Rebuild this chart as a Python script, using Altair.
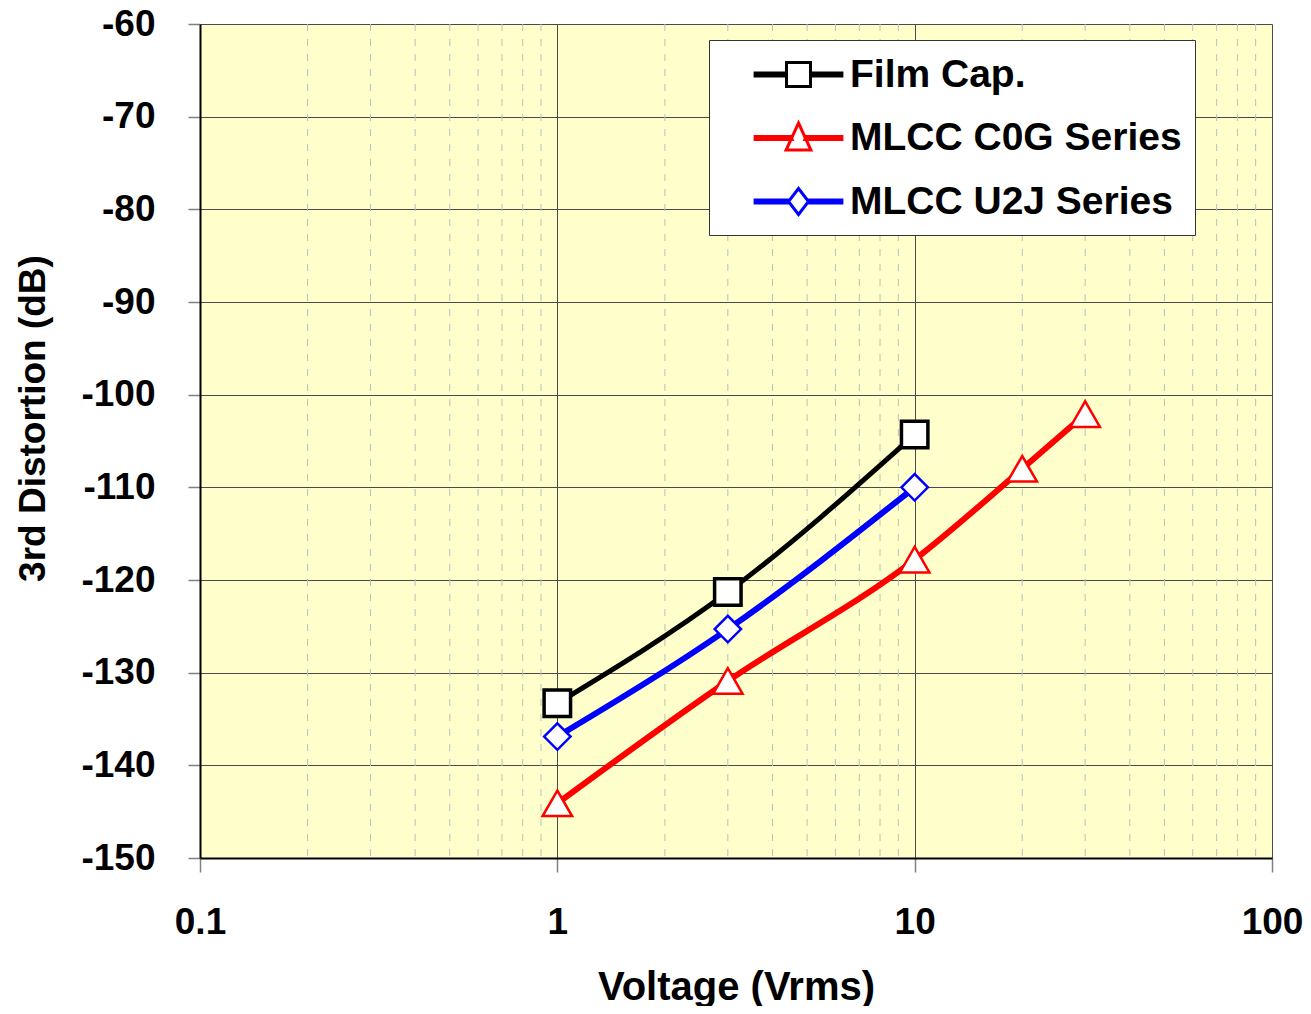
import altair as alt
import pandas as pd

# ---------------- data ----------------
series_names = ["Film Cap.", "MLCC C0G Series", "MLCC U2J Series"]
series_colors = ["#000000", "#FF0000", "#0000FF"]

film_v = [1, 3, 10]
film_d = [-133.3, -121.3, -104.3]

c0g_v = [1, 3, 10, 20, 30]
c0g_d = [-144.1, -130.9, -117.8, -108.0, -102.1]

u2j_v = [1, 3, 10]
u2j_d = [-136.9, -125.3, -110.0]

x_major = [0.1, 1, 10, 100]
x_minor = [0.2, 0.3, 0.4, 0.5, 0.6, 0.7, 0.8, 0.9,
           2, 3, 4, 5, 6, 7, 8, 9,
           20, 30, 40, 50, 60, 70, 80, 90]
y_ticks = [-150, -140, -130, -120, -110, -100, -90, -80, -70, -60]

rows = []
for name, vs, ds in zip(series_names, [film_v, c0g_v, u2j_v], [film_d, c0g_d, u2j_d]):
    for v, d in zip(vs, ds):
        rows.append({"series": name, "v": v, "d": d})
df = pd.DataFrame(rows)
minor_df = pd.DataFrame({"v": x_minor})

# ---------------- style ----------------
FONT = "Liberation Sans"
GRID = "#4a4a4a"

x_scale = alt.Scale(type="log", domain=[0.1, 100], nice=False)
y_scale = alt.Scale(domain=[-150, -60], nice=False, zero=False)

x_axis = alt.Axis(
    values=x_major, format="~g", title="Voltage (Vrms)",
    grid=True, gridColor=GRID, gridWidth=1,
    ticks=True, tickSize=14, tickColor="#808080", tickWidth=1.5,
    domainColor="#000000", domainWidth=2,
    labelFont=FONT, labelFontSize=37, labelFontWeight="bold", labelColor="#000000",
    labelBaseline="alphabetic", labelPadding=61, labelFlush=False, labelOverlap=False,
    titleFont=FONT, titleFontSize=40, titleFontWeight="bold", titleColor="#000000",
    titleBaseline="alphabetic", titleY=141,
)
y_axis = alt.Axis(
    values=y_ticks, title="3rd Distortion (dB)", labelExpr="'' + datum.value",
    grid=True, gridColor=GRID, gridWidth=1,
    ticks=True, tickSize=12, tickColor="#808080", tickWidth=1.5,
    domainColor="#000000", domainWidth=2,
    labelFont=FONT, labelFontSize=37, labelFontWeight="bold", labelColor="#000000",
    labelPadding=33, labelOverlap=False,
    titleFont=FONT, titleFontSize=37, titleFontWeight="bold", titleColor="#000000",
    titleBaseline="alphabetic", titleAlign="center", titleX=-156, titleY=394,
)

color_scale = alt.Scale(domain=series_names, range=series_colors)

# legend symbols: thick line + marker (custom paths, unit = sqrt(size)/2 px)
legend_paths = [
    "M-2.17,-0.07L-0.6,-0.07L-0.6,0.07L-2.17,0.07Z"
    "M0.6,-0.07L2.17,-0.07L2.17,0.07L0.6,0.07Z"
    "M-0.6,-0.6L0.6,-0.6L0.6,0.6L-0.6,0.6Z",
    "M-2.17,-0.07L-0.38,-0.07L-0.32,0.07L-2.17,0.07Z"
    "M0.38,-0.07L2.17,-0.07L2.17,0.07L0.32,0.07Z"
    "M0,-0.75L0.62,0.6L-0.62,0.6Z",
    "M-2.17,-0.07L-0.5,-0.07L-0.5,0.07L-2.17,0.07Z"
    "M0.5,-0.07L2.17,-0.07L2.17,0.07L0.5,0.07Z"
    "M0,-0.65L0.5,0L0,0.65L-0.5,0Z",
]

legend = alt.Legend(
    title=None, orient="none", legendX=509, legendY=16, direction="vertical",
    fillColor="#FFFFFF", strokeColor="#333333", padding=13, cornerRadius=0,
    symbolSize=1600, symbolStrokeWidth=3, symbolFillColor="#FFFFFF",
    symbolOpacity=1, symbolOffset=55,
    labelOffset=30, labelFont=FONT, labelFontSize=39, labelFontWeight="bold",
    labelColor="#000000", labelLimit=700, rowPadding=21.5,
)

X = alt.X("v:Q", scale=x_scale, axis=x_axis)
Y = alt.Y("d:Q", scale=y_scale, axis=y_axis)

minor = alt.Chart(minor_df).mark_rule(
    color="#bdbdbd", strokeWidth=1, strokeDash=[7, 8]
).encode(x=X)

marker_shapes = ["square", "triangle-up", "diamond"]
marker_sizes = [700, 870, 700]
marker_strokes = [3.5, 2.5, 2.5]
line_widths = [5, 6, 6]

line_layers = []
point_layers = []
for name, col, shp, sz, sw, lw in zip(series_names, series_colors, marker_shapes,
                                       marker_sizes, marker_strokes, line_widths):
    base = alt.Chart(df).transform_filter(alt.datum.series == name)
    line_layers.append(
        base.mark_line(color=col, strokeWidth=lw, interpolate="monotone").encode(x=X, y=Y)
    )
    point_layers.append(
        base.mark_point(
            shape=shp, size=sz, stroke=col, strokeWidth=sw,
            fill="#FFFFFF", fillOpacity=1, opacity=1,
        ).encode(x=X, y=Y)
    )

# legend-only layer: no rows survive the filter, the legend comes from the scale domain
legend_layer = alt.Chart(df).transform_filter(alt.datum.v < 0).mark_point(
    fill="#FFFFFF"
).encode(
    x=X, y=Y,
    stroke=alt.Stroke("series:N", scale=color_scale, legend=legend),
    shape=alt.Shape("series:N", scale=alt.Scale(domain=series_names, range=legend_paths),
                    legend=legend),
)

chart = alt.layer(minor, *line_layers, *point_layers, legend_layer).properties(
    width=1072, height=834,
    autosize=alt.AutoSizeParams(type="none"),
    padding={"left": 192, "top": 16, "right": 31, "bottom": 148},
).configure_view(fill="#FFFFCC", strokeWidth=0)

chart.save("out.html", embed_options={"renderer": "svg", "actions": False})
